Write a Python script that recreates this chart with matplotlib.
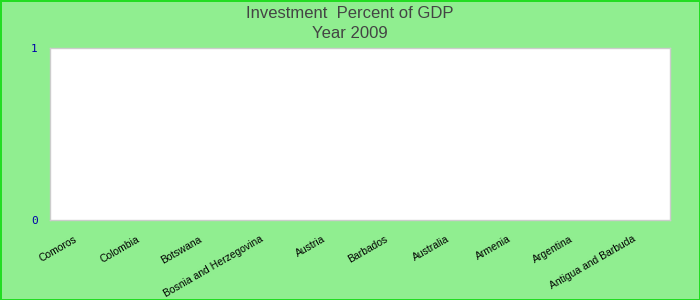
import matplotlib.pyplot as plt
from matplotlib.transforms import ScaledTranslation

# countries shown on the x axis (left to right)
countries = ['Comoros', 'Colombia', 'Botswana', 'Bosnia and Herzegovina', 'Austria',
             'Barbados', 'Australia', 'Armenia', 'Argentina', 'Antigua and Barbuda']
# investment values for 2009 - all empty in the source chart
values = [0, 0, 0, 0, 0, 0, 0, 0, 0, 0]
y_ticks = [0, 1]

plt.rcParams['font.family'] = ['Liberation Sans', 'DejaVu Sans']

fig = plt.figure(figsize=(7, 3), dpi=100)
fig.patch.set_facecolor('#90EE90')
fig.patch.set_edgecolor('#22DD22')
fig.patch.set_linewidth(2)

ax = fig.add_axes([50 / 700, 1 - 220 / 300, 620 / 700, 172 / 300])
ax.set_facecolor('white')
ax.bar(range(len(countries)), values, color='#4472C4', width=0.6)
ax.set_xlim(-0.5, len(countries) - 0.5)
ax.set_ylim(0, 1)

for s in ax.spines.values():
    s.set_color('#CCCCCC')
    s.set_linewidth(1)

ax.set_yticks(y_ticks)
ax.set_yticklabels([str(v) for v in y_ticks], color='#0000AA', fontsize=8, family='DejaVu Sans Mono')
ax.tick_params(axis='y', length=0, pad=9)

ax.set_xticks(range(len(countries)))
ax.set_xticklabels(countries, rotation=30, ha='right', va='top', rotation_mode='anchor', fontsize=7.5)
ax.tick_params(axis='x', length=0, pad=10)
shift = ScaledTranslation(-7 / 100, 0, fig.dpi_scale_trans)
for lab in ax.get_xticklabels():
    lab.set_transform(lab.get_transform() + shift)

fig.text(0.5, 1 - 14 / 300, 'Investment  Percent of GDP', ha='center', va='center',
         fontsize=12, color='#444444')
fig.text(0.5, 1 - 33 / 300, 'Year 2009', ha='center', va='center', fontsize=12, color='#444444')

fig.savefig('out.png', dpi=100, facecolor=fig.get_facecolor(), edgecolor=fig.get_edgecolor())
